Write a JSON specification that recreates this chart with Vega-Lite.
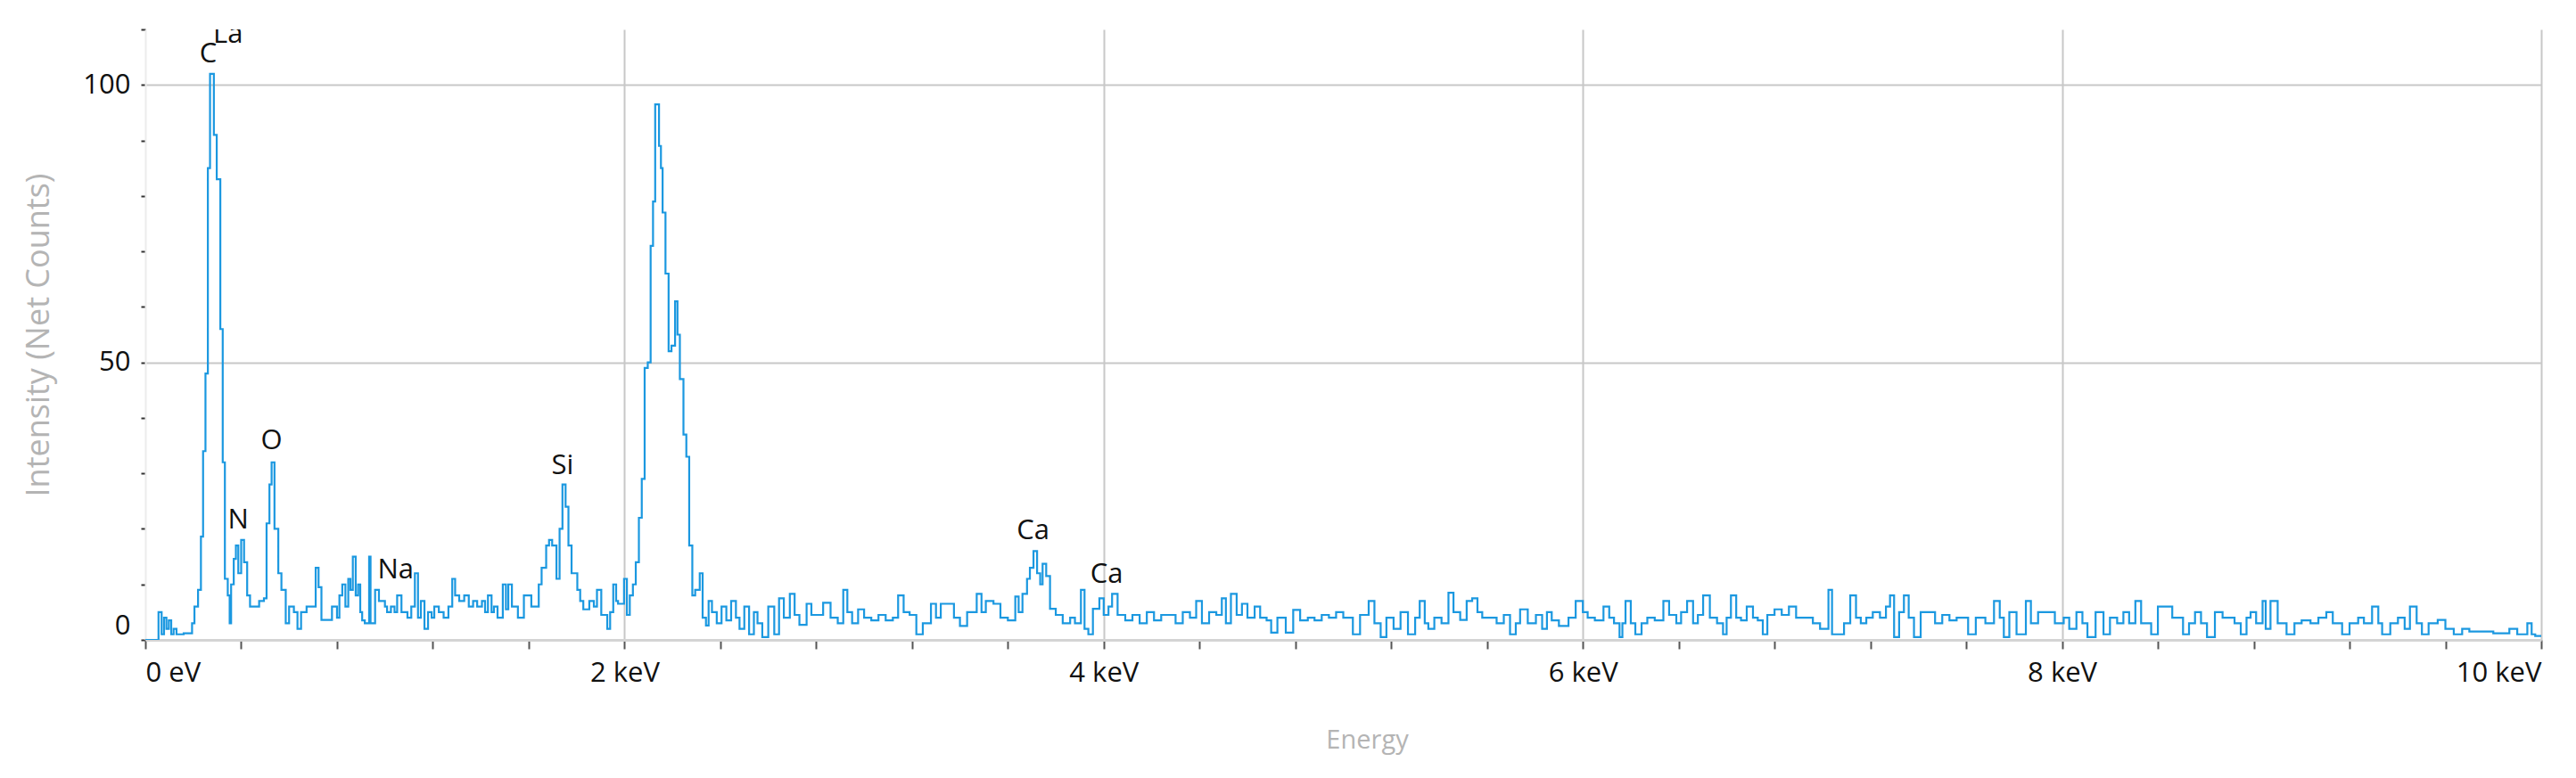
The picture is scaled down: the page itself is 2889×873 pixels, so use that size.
{
  "$schema": "https://vega.github.io/schema/vega-lite/v6.json",
  "width": 2687,
  "height": 685,
  "autosize": {"type": "none"},
  "padding": {"left": 163, "top": 33, "right": 39, "bottom": 155},
  "background": "white",
  "config": {"view": {"stroke": null}, "font": "Open Sans"},
  "datasets": {
    "spectrum": [
      {"energy":0.000,"counts":0},{"energy":0.055,"counts":5},{"energy":0.068,"counts":1},{"energy":0.078,"counts":4},{"energy":0.088,"counts":2},{"energy":0.098,"counts":3.5},{"energy":0.108,"counts":1},{"energy":0.118,"counts":2},{"energy":0.130,"counts":1},{"energy":0.160,"counts":1.2},{"energy":0.195,"counts":3},{"energy":0.205,"counts":6},{"energy":0.220,"counts":9},{"energy":0.232,"counts":18.6},{"energy":0.241,"counts":34},{"energy":0.251,"counts":48},{"energy":0.261,"counts":85},{"energy":0.270,"counts":102},{"energy":0.286,"counts":91},{"energy":0.298,"counts":83},{"energy":0.313,"counts":56},{"energy":0.323,"counts":32},{"energy":0.332,"counts":11},{"energy":0.344,"counts":8},{"energy":0.352,"counts":3},{"energy":0.358,"counts":10},{"energy":0.369,"counts":14.6},{"energy":0.378,"counts":17},{"energy":0.388,"counts":12},{"energy":0.400,"counts":18},{"energy":0.412,"counts":14},{"energy":0.425,"counts":8},{"energy":0.437,"counts":6},{"energy":0.475,"counts":7},{"energy":0.495,"counts":7.5},{"energy":0.506,"counts":21},{"energy":0.518,"counts":28},{"energy":0.527,"counts":32},{"energy":0.539,"counts":20},{"energy":0.555,"counts":12},{"energy":0.568,"counts":9},{"energy":0.586,"counts":3},{"energy":0.600,"counts":6},{"energy":0.620,"counts":5},{"energy":0.635,"counts":2},{"energy":0.650,"counts":5},{"energy":0.673,"counts":6},{"energy":0.690,"counts":6},{"energy":0.711,"counts":13},{"energy":0.723,"counts":9.5},{"energy":0.735,"counts":3.6},{"energy":0.779,"counts":6},{"energy":0.800,"counts":4},{"energy":0.810,"counts":8},{"energy":0.822,"counts":10},{"energy":0.835,"counts":6},{"energy":0.847,"counts":11},{"energy":0.856,"counts":9},{"energy":0.866,"counts":15},{"energy":0.878,"counts":8},{"energy":0.888,"counts":10},{"energy":0.897,"counts":5},{"energy":0.905,"counts":3.5},{"energy":0.916,"counts":3},{"energy":0.934,"counts":15},{"energy":0.940,"counts":3},{"energy":0.959,"counts":9},{"energy":0.975,"counts":7},{"energy":0.984,"counts":7},{"energy":1.000,"counts":6},
      {"energy":1.009,"counts":5},{"energy":1.025,"counts":6},{"energy":1.040,"counts":5},{"energy":1.051,"counts":8},{"energy":1.069,"counts":5},{"energy":1.094,"counts":4},{"energy":1.110,"counts":6},{"energy":1.125,"counts":12},{"energy":1.138,"counts":4},{"energy":1.150,"counts":7},{"energy":1.165,"counts":2},{"energy":1.180,"counts":5},{"energy":1.195,"counts":4},{"energy":1.206,"counts":6},{"energy":1.225,"counts":5},{"energy":1.245,"counts":4},{"energy":1.265,"counts":6},{"energy":1.281,"counts":11},{"energy":1.293,"counts":8},{"energy":1.310,"counts":7},{"energy":1.331,"counts":8},{"energy":1.350,"counts":6},{"energy":1.368,"counts":7},{"energy":1.385,"counts":6},{"energy":1.405,"counts":7},{"energy":1.418,"counts":5},{"energy":1.430,"counts":8},{"energy":1.445,"counts":5},{"energy":1.455,"counts":6},{"energy":1.470,"counts":4},{"energy":1.492,"counts":10},{"energy":1.505,"counts":5.5},{"energy":1.515,"counts":10},{"energy":1.530,"counts":6},{"energy":1.555,"counts":4},{"energy":1.580,"counts":8},{"energy":1.611,"counts":6},{"energy":1.642,"counts":10},{"energy":1.654,"counts":13},{"energy":1.673,"counts":17},{"energy":1.685,"counts":18},{"energy":1.698,"counts":17},{"energy":1.716,"counts":11},{"energy":1.729,"counts":20},{"energy":1.741,"counts":28},{"energy":1.754,"counts":24},{"energy":1.766,"counts":17},{"energy":1.779,"counts":12},{"energy":1.803,"counts":9},{"energy":1.815,"counts":7},{"energy":1.828,"counts":5.5},{"energy":1.853,"counts":7},{"energy":1.872,"counts":6},{"energy":1.885,"counts":9},{"energy":1.903,"counts":4.5},{"energy":1.928,"counts":2},{"energy":1.940,"counts":5},{"energy":1.953,"counts":10},{"energy":1.965,"counts":7},
      {"energy":1.973,"counts":6.5},{"energy":1.998,"counts":11},{"energy":2.010,"counts":4.5},{"energy":2.022,"counts":8},{"energy":2.035,"counts":10},{"energy":2.047,"counts":14},{"energy":2.060,"counts":22},{"energy":2.072,"counts":29},{"energy":2.084,"counts":49},{"energy":2.097,"counts":50},{"energy":2.109,"counts":71},{"energy":2.119,"counts":79},{"energy":2.128,"counts":96.5},{"energy":2.144,"counts":89},{"energy":2.152,"counts":85},{"energy":2.159,"counts":77},{"energy":2.171,"counts":66},{"energy":2.184,"counts":52},{"energy":2.196,"counts":53},{"energy":2.211,"counts":61},{"energy":2.221,"counts":55},{"energy":2.231,"counts":47},{"energy":2.246,"counts":37},{"energy":2.258,"counts":33},{"energy":2.270,"counts":17},{"energy":2.283,"counts":8},{"energy":2.295,"counts":9},{"energy":2.314,"counts":12},{"energy":2.326,"counts":4},{"energy":2.340,"counts":2.6},{"energy":2.351,"counts":7},
      {"energy":2.365,"counts":5},{"energy":2.385,"counts":3},{"energy":2.405,"counts":6},{"energy":2.425,"counts":3.5},{"energy":2.445,"counts":7},{"energy":2.465,"counts":4},{"energy":2.480,"counts":2},{"energy":2.500,"counts":6},{"energy":2.520,"counts":1},{"energy":2.540,"counts":5},{"energy":2.555,"counts":3},{"energy":2.575,"counts":0.5},{"energy":2.600,"counts":6},{"energy":2.625,"counts":1},{"energy":2.645,"counts":7.5},{"energy":2.665,"counts":4},{"energy":2.690,"counts":8.3},{"energy":2.710,"counts":4.5},{"energy":2.730,"counts":2.7},{"energy":2.760,"counts":6.5},{"energy":2.780,"counts":4.5},{"energy":2.800,"counts":4.5},{"energy":2.829,"counts":6.7},{"energy":2.860,"counts":4},{"energy":2.890,"counts":3},{"energy":2.913,"counts":9},{"energy":2.930,"counts":5},{"energy":2.950,"counts":3},{"energy":2.975,"counts":5.5},{"energy":3.000,"counts":4},{"energy":3.030,"counts":3.5},{"energy":3.060,"counts":4.5},{"energy":3.090,"counts":3.5},{"energy":3.120,"counts":4},{"energy":3.142,"counts":8},{"energy":3.165,"counts":5},{"energy":3.190,"counts":4.5},{"energy":3.218,"counts":1},{"energy":3.245,"counts":3},{"energy":3.279,"counts":6.5},{"energy":3.300,"counts":4},{"energy":3.320,"counts":6.5},{"energy":3.350,"counts":6.5},{"energy":3.375,"counts":4},{"energy":3.400,"counts":2.5},{"energy":3.430,"counts":5},{"energy":3.470,"counts":8.3},{"energy":3.490,"counts":5},{"energy":3.508,"counts":7},{"energy":3.540,"counts":6.5},{"energy":3.569,"counts":4},{"energy":3.600,"counts":3.5},{"energy":3.631,"counts":7.8},{"energy":3.645,"counts":5},{"energy":3.661,"counts":8.3},{"energy":3.680,"counts":11},{"energy":3.692,"counts":13},{"energy":3.707,"counts":16},{"energy":3.722,"counts":12},{"energy":3.735,"counts":10},{"energy":3.745,"counts":13.7},{"energy":3.760,"counts":11.5},{"energy":3.776,"counts":5.6},{"energy":3.800,"counts":4.5},{"energy":3.829,"counts":3},{"energy":3.860,"counts":4},{"energy":3.880,"counts":3},{"energy":3.905,"counts":9},{"energy":3.920,"counts":2},{"energy":3.936,"counts":1},{"energy":3.955,"counts":5.6},{"energy":3.982,"counts":7.5},{"energy":4.000,"counts":4.5},{"energy":4.020,"counts":6},{"energy":4.035,"counts":8.3},{"energy":4.058,"counts":4.5},{"energy":4.090,"counts":3.5},{"energy":4.120,"counts":4.5},{"energy":4.150,"counts":3},{"energy":4.180,"counts":5},{"energy":4.210,"counts":3.5},{"energy":4.240,"counts":4.5},{"energy":4.272,"counts":4.5},{"energy":4.300,"counts":3},{"energy":4.330,"counts":5},{"energy":4.360,"counts":4},{"energy":4.386,"counts":7},{"energy":4.410,"counts":3},{"energy":4.440,"counts":5},{"energy":4.470,"counts":4.5},{"energy":4.493,"counts":7.5},{"energy":4.510,"counts":3},{"energy":4.531,"counts":8.3},{"energy":4.555,"counts":4.5},{"energy":4.577,"counts":6.5},{"energy":4.600,"counts":4},{"energy":4.630,"counts":6},{"energy":4.653,"counts":4},{"energy":4.680,"counts":3.5},{"energy":4.699,"counts":1.3},{"energy":4.725,"counts":4},{"energy":4.760,"counts":1.3},{"energy":4.791,"counts":5.4},{"energy":4.820,"counts":3.5},{"energy":4.852,"counts":4},{"energy":4.880,"counts":3.5},{"energy":4.910,"counts":4.5},{"energy":4.940,"counts":4},{"energy":4.970,"counts":5},
      {"energy":5.000,"counts":4},{"energy":5.040,"counts":1},{"energy":5.070,"counts":4.5},{"energy":5.106,"counts":7},{"energy":5.130,"counts":3},{"energy":5.156,"counts":0.5},{"energy":5.180,"counts":4},{"energy":5.210,"counts":2},{"energy":5.239,"counts":5},{"energy":5.270,"counts":1},{"energy":5.300,"counts":4},{"energy":5.319,"counts":7},{"energy":5.340,"counts":3},{"energy":5.355,"counts":2},{"energy":5.380,"counts":4},{"energy":5.410,"counts":3},{"energy":5.439,"counts":8.5},{"energy":5.460,"counts":5},{"energy":5.488,"counts":3.6},{"energy":5.515,"counts":7},{"energy":5.538,"counts":7.5},{"energy":5.560,"counts":5},{"energy":5.580,"counts":4},{"energy":5.605,"counts":4},{"energy":5.640,"counts":3},{"energy":5.670,"counts":4.5},{"energy":5.696,"counts":1},{"energy":5.720,"counts":3},{"energy":5.738,"counts":5.5},{"energy":5.770,"counts":3},{"energy":5.804,"counts":4.5},{"energy":5.830,"counts":2},{"energy":5.850,"counts":5},{"energy":5.870,"counts":3.5},{"energy":5.900,"counts":2.5},{"energy":5.940,"counts":4},{"energy":5.970,"counts":7},{"energy":6.000,"counts":5},{"energy":6.020,"counts":4},{"energy":6.050,"counts":3.5},{"energy":6.086,"counts":6},{"energy":6.110,"counts":4},{"energy":6.130,"counts":3},{"energy":6.153,"counts":0.5},{"energy":6.165,"counts":3},{"energy":6.178,"counts":7},{"energy":6.200,"counts":3},{"energy":6.219,"counts":1},{"energy":6.245,"counts":3},{"energy":6.269,"counts":4},{"energy":6.300,"counts":3.5},{"energy":6.336,"counts":7},{"energy":6.360,"counts":4.5},{"energy":6.390,"counts":3},{"energy":6.410,"counts":5},{"energy":6.435,"counts":7},{"energy":6.460,"counts":3},{"energy":6.480,"counts":4.5},{"energy":6.502,"counts":8},{"energy":6.530,"counts":4},{"energy":6.560,"counts":3},{"energy":6.585,"counts":1},{"energy":6.600,"counts":4},{"energy":6.618,"counts":8},{"energy":6.640,"counts":4},{"energy":6.660,"counts":3.5},{"energy":6.684,"counts":6},{"energy":6.710,"counts":4},{"energy":6.730,"counts":3.5},{"energy":6.751,"counts":1},{"energy":6.770,"counts":4.5},{"energy":6.800,"counts":5.5},{"energy":6.830,"counts":4.5},{"energy":6.860,"counts":6},{"energy":6.890,"counts":4},{"energy":6.934,"counts":4},{"energy":6.960,"counts":3},{"energy":6.990,"counts":2},{"energy":7.025,"counts":9},{"energy":7.040,"counts":1},{"energy":7.066,"counts":1},{"energy":7.090,"counts":3},{"energy":7.116,"counts":8},{"energy":7.140,"counts":4},{"energy":7.160,"counts":3},{"energy":7.183,"counts":4},{"energy":7.210,"counts":5},{"energy":7.240,"counts":4},{"energy":7.265,"counts":6},{"energy":7.282,"counts":8},{"energy":7.299,"counts":0.5},{"energy":7.320,"counts":5},{"energy":7.340,"counts":8},{"energy":7.360,"counts":4},{"energy":7.382,"counts":0.5},{"energy":7.410,"counts":5},{"energy":7.432,"counts":5},{"energy":7.470,"counts":3},{"energy":7.500,"counts":4.5},
      {"energy":7.530,"counts":3.5},{"energy":7.560,"counts":4},{"energy":7.608,"counts":1},{"energy":7.640,"counts":4},{"energy":7.680,"counts":3},{"energy":7.716,"counts":7},{"energy":7.740,"counts":4},{"energy":7.757,"counts":0.5},{"energy":7.780,"counts":5},{"energy":7.810,"counts":1},{"energy":7.849,"counts":7},{"energy":7.870,"counts":3},{"energy":7.900,"counts":5},{"energy":7.940,"counts":5},{"energy":7.970,"counts":3},{"energy":8.007,"counts":4},{"energy":8.030,"counts":2},{"energy":8.060,"counts":5},{"energy":8.085,"counts":3},{"energy":8.106,"counts":0.5},{"energy":8.140,"counts":5},{"energy":8.173,"counts":1},{"energy":8.200,"counts":4},{"energy":8.230,"counts":3},{"energy":8.256,"counts":5},{"energy":8.280,"counts":3},{"energy":8.306,"counts":7},{"energy":8.330,"counts":3},{"energy":8.372,"counts":1},{"energy":8.400,"counts":6},{"energy":8.430,"counts":6},{"energy":8.460,"counts":4},{"energy":8.505,"counts":1},{"energy":8.530,"counts":3},{"energy":8.555,"counts":5},{"energy":8.580,"counts":3},{"energy":8.605,"counts":0.5},{"energy":8.638,"counts":5},{"energy":8.670,"counts":4},{"energy":8.696,"counts":4},{"energy":8.720,"counts":3},{"energy":8.746,"counts":1},{"energy":8.770,"counts":4},{"energy":8.787,"counts":5},{"energy":8.810,"counts":3},{"energy":8.837,"counts":7},{"energy":8.850,"counts":2},{"energy":8.870,"counts":7},{"energy":8.900,"counts":3},{"energy":8.937,"counts":1},{"energy":8.970,"counts":3},{"energy":9.000,"counts":3.5},{"energy":9.037,"counts":3},{"energy":9.070,"counts":4},{"energy":9.103,"counts":5},{"energy":9.130,"counts":3},{"energy":9.169,"counts":1},{"energy":9.200,"counts":3},{"energy":9.236,"counts":4},{"energy":9.260,"counts":3},{"energy":9.294,"counts":6},{"energy":9.320,"counts":3},{"energy":9.336,"counts":1},{"energy":9.370,"counts":3},{"energy":9.402,"counts":4},{"energy":9.430,"counts":2},{"energy":9.452,"counts":6},{"energy":9.480,"counts":3},{"energy":9.502,"counts":1},{"energy":9.530,"counts":3},{"energy":9.568,"counts":3.6},{"energy":9.600,"counts":2},{"energy":9.635,"counts":1},{"energy":9.670,"counts":2},{"energy":9.700,"counts":1.5},{"energy":9.751,"counts":1.5},{"energy":9.800,"counts":1.2},{"energy":9.867,"counts":2},{"energy":9.900,"counts":1},{"energy":9.942,"counts":3},{"energy":9.960,"counts":1},{"energy":9.975,"counts":0.7},{"energy":10.000,"counts":0.7}
    ],
    "peaks": [
      {"energy":0.262,"counts":105.5,"element":"C"},
      {"energy":0.345,"counts":109.0,"element":"La"},
      {"energy":0.388,"counts":21.5,"element":"N"},
      {"energy":0.527,"counts":35.8,"element":"O"},
      {"energy":1.045,"counts":12.5,"element":"Na"},
      {"energy":1.741,"counts":31.3,"element":"Si"},
      {"energy":3.705,"counts":19.6,"element":"Ca"},
      {"energy":4.012,"counts":11.8,"element":"Ca"}
    ]
  },
  "encoding": {
    "x": {
      "field": "energy",
      "type": "quantitative",
      "scale": {"domain": [0, 10], "nice": false, "zero": false},
      "axis": {
        "values": [0,0.4,0.8,1.2,1.6,2,2.4,2.8,3.2,3.6,4,4.4,4.8,5.2,5.6,6,6.4,6.8,7.2,7.6,8,8.4,8.8,9.2,9.6,10],
        "labelExpr": "datum.value == 0 ? '0 eV' : (datum.value % 2 == 0 ? datum.value + ' keV' : '')",
        "labelFlush": true,
        "labelOverlap": false,
        "labelFont": "Open Sans",
        "labelFontSize": 31,
        "labelColor": "#111111",
        "labelPadding": 12,
        "tickSize": 10,
        "tickColor": "#555555",
        "tickWidth": 2,
        "domainColor": "#d4d4d4",
        "domainWidth": 3,
        "grid": true,
        "gridColor": "#c8c8c8",
        "gridWidth": 2,
        "gridOpacity": {"condition": {"test": "datum.value % 2 == 0 && datum.value > 0", "value": 1}, "value": 0},
        "title": "Energy",
        "titleFont": "Open Sans",
        "titleFontSize": 29,
        "titleFontWeight": "normal",
        "titleColor": "#b4b4b4",
        "titlePadding": 46,
        "titleX": 1370
      }
    },
    "y": {
      "field": "counts",
      "type": "quantitative",
      "scale": {"domain": [0, 110], "nice": false},
      "axis": {
        "values": [0,10,20,30,40,50,60,70,80,90,100,110],
        "labelExpr": "datum.value % 50 == 0 ? datum.label : ''",
        "labelFlush": true,
        "labelOverlap": false,
        "labelFont": "Open Sans",
        "labelFontSize": 31,
        "labelColor": "#111111",
        "labelPadding": 12,
        "tickSize": 5,
        "tickColor": "#333333",
        "tickWidth": 2,
        "domainColor": "#ececec",
        "domainWidth": 2,
        "grid": true,
        "gridColor": "#c8c8c8",
        "gridWidth": 2,
        "gridOpacity": {"condition": {"test": "datum.value == 50 || datum.value == 100", "value": 1}, "value": 0},
        "title": "Intensity (Net Counts)",
        "titleFont": "Open Sans",
        "titleFontSize": 36,
        "titleFontWeight": "normal",
        "titleColor": "#b4b4b4",
        "titlePadding": 30
      }
    }
  },
  "layer": [
    {
      "data": {"name": "spectrum"},
      "mark": {"type": "line", "interpolate": "step-after", "color": "#1b98e0", "strokeWidth": 2.2, "clip": true}
    },
    {
      "data": {"name": "peaks"},
      "mark": {"type": "text", "font": "Open Sans", "fontSize": 31, "color": "#111111", "align": "center", "baseline": "middle", "clip": true},
      "encoding": {"text": {"field": "element", "type": "nominal"}}
    }
  ]
}
